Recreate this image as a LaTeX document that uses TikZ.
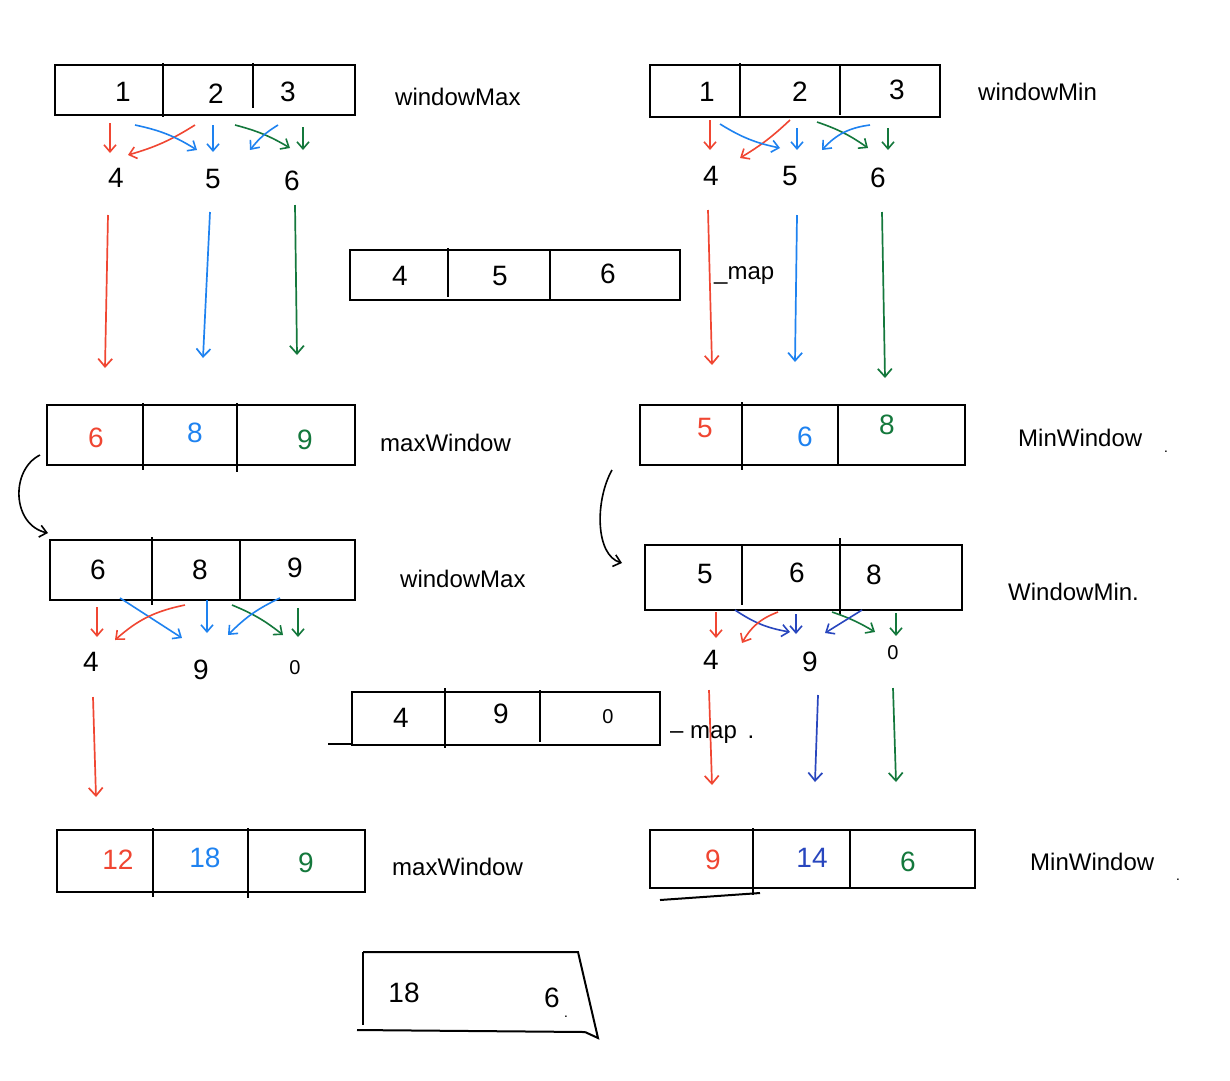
\documentclass[tikz,border=0pt]{standalone}
\usepackage{fontspec}
\setmainfont{Liberation Sans}
\usetikzlibrary{arrows.meta}
\definecolor{pred}{RGB}{240,70,50}
\definecolor{pblue}{RGB}{30,130,240}
\definecolor{pgreen}{RGB}{20,120,60}
\definecolor{pdblue}{RGB}{40,70,190}
\tikzset{
  box/.style={draw=black, line width=2pt},
  divl/.style={draw=black, line width=1.6pt},
  val/.style={inner sep=0pt, font=\fontsize{28}{32}\selectfont},
  num/.style={inner sep=0pt, font=\fontsize{28}{32}\selectfont},
  zero/.style={inner sep=0pt, font=\fontsize{20}{24}\selectfont},
  lbl/.style={inner sep=0pt, anchor=west, font=\fontsize{24}{28}\selectfont},
  arr/.style={-{Straight Barb[length=8pt,width=14pt]}, line width=1.7pt},
  sarr/.style={-{Straight Barb[length=7pt,width=12pt]}, line width=1.6pt},
}
\begin{document}
\begin{tikzpicture}[x=1pt,y=-1pt]
\useasboundingbox[fill=white] (0,0) rectangle (1230,1080);

% ---------- Box A : windowMax (top-left)
\draw[box] (55,65) rectangle (355,115);
\draw[divl] (163,63) -- (163,117);
\draw[divl] (253,63) -- (253,108);
\node[val] (a1) at (123,92) {1};
\node[val] (a2) at (216,94) {2};
\node[val] (a3) at (288,92) {3};
\node[lbl] (la) at (395,97) {windowMax};

% ---------- Box B : windowMin (top-right)
\draw[box] (650,65) rectangle (940,117);
\draw[divl] (740,63) -- (740,117);
\draw[divl] (840,66) -- (840,115);
\node[val] (b1) at (707,92) {1};
\node[val] (b2) at (800,92) {2};
\node[val] (b3) at (897,90) {3};
\node[lbl] (lb) at (978,92) {windowMin};

% small arrows under A
\coordinate (a1s) at (110,123); \coordinate (o4e) at (110,153);
\draw[sarr, pred] (a1s) -- (o4e);
\coordinate (a2r) at (195,125); \coordinate (o4r) at (128,155);
\draw[sarr, pred] (a2r) to[bend left=8] (o4r);
\coordinate (a1b) at (135,125); \coordinate (o5b) at (197,150);
\draw[sarr, pblue] (a1b) to[bend left=10] (o5b);
\coordinate (a2b) at (213,125); \coordinate (o5c) at (213,152);
\draw[sarr, pblue] (a2b) -- (o5c);
\coordinate (a2g) at (235,125); \coordinate (o6g) at (290,148);
\draw[sarr, pgreen] (a2g) to[bend left=8] (o6g);
\coordinate (a3b) at (278,125); \coordinate (o5d) at (250,150);
\draw[sarr, pblue] (a3b) to[bend right=10] (o5d);
\coordinate (a3g) at (303,127); \coordinate (o6h) at (303,150);
\draw[sarr, pgreen] (a3g) -- (o6h);

\node[num] (n4) at (116,178) {4};
\node[num] (n5) at (213,179) {5};
\node[num] (n6) at (292,181) {6};

% small arrows under B
\coordinate (b1s) at (710,120); \coordinate (p4e) at (710,150);
\draw[sarr, pred] (b1s) -- (p4e);
\coordinate (b2r) at (790,120); \coordinate (p4r) at (740,158);
\draw[sarr, pred] (b2r) to[bend left=6] (p4r);
\coordinate (b1b) at (720,124); \coordinate (p5b) at (780,148);
\draw[sarr, pblue] (b1b) to[bend right=10] (p5b);
\coordinate (b2b) at (797,128); \coordinate (p5c) at (797,150);
\draw[sarr, pblue] (b2b) -- (p5c);
\coordinate (b2g) at (817,122); \coordinate (p6g) at (868,148);
\draw[sarr, pgreen] (b2g) to[bend left=8] (p6g);
\coordinate (b3b) at (870,125); \coordinate (p5d) at (822,150);
\draw[sarr, pblue] (b3b) to[bend right=20] (p5d);
\coordinate (b3g) at (888,128); \coordinate (p6h) at (888,150);
\draw[sarr, pgreen] (b3g) -- (p6h);

\node[num] (m4) at (711,176) {4};
\node[num] (m5) at (790,176) {5};
\node[num] (m6) at (878,178) {6};

% ---------- Box C : 4 5 6
\draw[box] (350,250) rectangle (680,300);
\draw[divl] (448,248) -- (448,297);
\draw[divl] (550,250) -- (550,300);
\node[val] (c1) at (400,276) {4};
\node[val] (c2) at (500,276) {5};
\node[val] (c3) at (608,274) {6};
\node[lbl] (lc) at (714,276) {\_map};

% ---------- long arrows (top)
\coordinate (la1) at (108,215); \coordinate (la2) at (105,368);
\draw[arr, pred] (la1) -- (la2);
\coordinate (lb1) at (210,212); \coordinate (lb2) at (203,358);
\draw[arr, pblue] (lb1) -- (lb2);
\coordinate (lg1) at (295,205); \coordinate (lg2) at (297,355);
\draw[arr, pgreen] (lg1) -- (lg2);
\coordinate (ra1) at (708,210); \coordinate (ra2) at (712,365);
\draw[arr, pred] (ra1) -- (ra2);
\coordinate (rb1) at (797,215); \coordinate (rb2) at (795,362);
\draw[arr, pblue] (rb1) -- (rb2);
\coordinate (rg1) at (882,212); \coordinate (rg2) at (885,378);
\draw[arr, pgreen] (rg1) -- (rg2);

% ---------- Box D : maxWindow
\draw[box] (47,405) rectangle (355,465);
\draw[divl] (143,403) -- (143,470);
\draw[divl] (237,403) -- (237,472);
\node[val, text=pred] (d1) at (96,438) {6};
\node[val, text=pblue] (d2) at (195,433) {8};
\node[val, text=pgreen] (d3) at (305,440) {9};
\node[lbl] (ld) at (380,443) {maxWindow};

% ---------- Box E : MinWindow
\draw[box] (640,405) rectangle (965,465);
\draw[divl] (742,402) -- (742,470);
\draw[divl] (838,405) -- (838,465);
\node[val, text=pred] (e1) at (705,428) {5};
\node[val, text=pblue] (e2) at (805,437) {6};
\node[val, text=pgreen] (e3) at (887,425) {8};
\node[lbl] (le) at (1018,438) {MinWindow};
\node[inner sep=0pt] (ledot) at (1166,452) {\textbf{.}};

% ---------- Box F : windowMax
\draw[box] (50,540) rectangle (355,600);
\draw[divl] (152,537) -- (152,605);
\draw[divl] (240,540) -- (240,600);
\node[val] (f1) at (98,570) {6};
\node[val] (f2) at (200,570) {8};
\node[val] (f3) at (295,568) {9};
\node[lbl] (lf) at (400,579) {windowMax};

% curved arrow D -> F
\coordinate (df1) at (40,455);
\coordinate (df2) at (48,533);
\draw[sarr, black] (df1) .. controls (10,470) and (12,525) .. (df2);

% ---------- Box G : windowMin
\draw[box] (645,545) rectangle (962,610);
\draw[divl] (742,545) -- (742,605);
\draw[divl] (840,538) -- (840,615);
\node[val] (g1) at (705,574) {5};
\node[val] (g2) at (797,573) {6};
\node[val] (g3) at (874,575) {8};
\node[lbl] (lg) at (1008,592) {WindowMin.};

% curved arrow E -> G
\coordinate (eg1) at (612,470);
\coordinate (eg2) at (622,563);
\draw[sarr, black] (eg1) .. controls (595,500) and (595,555) .. (eg2);

% small arrows under F
\coordinate (f1s) at (97,607); \coordinate (q4e) at (97,637);
\draw[sarr, pred] (f1s) -- (q4e);
\coordinate (f1b) at (120,598); \coordinate (q9b) at (182,638);
\draw[sarr, pblue] (f1b) -- (q9b);
\coordinate (f2r) at (185,605); \coordinate (q4r) at (115,640);
\draw[sarr, pred] (f2r) to[bend right=15] (q4r);
\coordinate (f2b) at (207,600); \coordinate (q9c) at (207,633);
\draw[sarr, pblue] (f2b) -- (q9c);
\coordinate (f2g) at (232,605); \coordinate (q0g) at (283,635);
\draw[sarr, pgreen] (f2g) to[bend left=8] (q0g);
\coordinate (f3b) at (280,598); \coordinate (q9d) at (228,635);
\draw[sarr, pblue] (f3b) to[bend right=10] (q9d);
\coordinate (f3g) at (298,608); \coordinate (q0h) at (298,637);
\draw[sarr, pgreen] (f3g) -- (q0h);

\node[num] (r4) at (91,662) {4};
\node[num] (r9) at (201,670) {9};
\node[zero] (r0) at (295,668) {0};

% small arrows under G
\coordinate (g1s) at (716,612); \coordinate (s4e) at (716,638);
\draw[sarr, pred] (g1s) -- (s4e);
\coordinate (g1b) at (735,610); \coordinate (s9b) at (790,632);
\draw[sarr, pdblue] (g1b) to[bend right=12] (s9b);
\coordinate (g2r) at (778,612); \coordinate (s4r) at (742,643);
\draw[sarr, pred] (g2r) to[bend right=20] (s4r);
\coordinate (g2b) at (796,614); \coordinate (s9c) at (796,634);
\draw[sarr, pdblue] (g2b) -- (s9c);
\coordinate (g2g) at (832,612); \coordinate (s0g) at (875,632);
\draw[sarr, pgreen] (g2g) to[bend left=6] (s0g);
\coordinate (g3b) at (862,610); \coordinate (s9d) at (825,633);
\draw[sarr, pdblue] (g3b) -- (s9d);
\coordinate (g3g) at (896,613); \coordinate (s0h) at (896,636);
\draw[sarr, pgreen] (g3g) -- (s0h);

\node[num] (t4) at (711,660) {4};
\node[num] (t9) at (810,662) {9};
\node[zero] (t0) at (893,653) {0};

% ---------- Box H : 4 9 0
\draw[box] (352,692) rectangle (660,745);
\draw[box] (328,744) -- (352,744);
\draw[divl] (445,688) -- (445,748);
\draw[divl] (540,690) -- (540,742);
\node[val] (h1) at (401,718) {4};
\node[val] (h2) at (501,714) {9};
\node[zero] (h3) at (608,717) {0};
\node[lbl] (lh) at (670,735) {– map \,.};

% long arrows (bottom)
\coordinate (lr1) at (93,697); \coordinate (lr2) at (96,797);
\draw[arr, pred] (lr1) -- (lr2);
\coordinate (rr1) at (709,690); \coordinate (rr2) at (712,785);
\draw[arr, pred] (rr1) -- (rr2);
\coordinate (rb3) at (818,695); \coordinate (rb4) at (815,782);
\draw[arr, pdblue] (rb3) -- (rb4);
\coordinate (rg3) at (893,688); \coordinate (rg4) at (896,782);
\draw[arr, pgreen] (rg3) -- (rg4);

% ---------- Box I : maxWindow
\draw[box] (57,830) rectangle (365,892);
\draw[divl] (153,828) -- (153,897);
\draw[divl] (248,828) -- (248,898);
\node[val, text=pred] (i1) at (118,860) {12};
\node[val, text=pblue] (i2) at (205,858) {18};
\node[val, text=pgreen] (i3) at (306,863) {9};
\node[lbl] (li) at (392,867) {maxWindow};

% ---------- Box J : MinWindow
\draw[box] (650,830) rectangle (975,888);
\draw[box] (660,900) -- (760,893);
\draw[divl] (753,828) -- (753,895);
\draw[divl] (850,830) -- (850,888);
\node[val, text=pred] (j1) at (713,860) {9};
\node[val, text=pdblue] (j2) at (812,858) {14};
\node[val, text=pgreen] (j3) at (908,862) {6};
\node[lbl] (lj) at (1030,862) {MinWindow};
\node[inner sep=0pt] (ljdot) at (1178,880) {\textbf{.}};

% ---------- Box K : 18 6
\draw[box] (363,952) -- (578,952) -- (598,1038) -- (585,1032);
\draw[box] (363,952) -- (363,1025);
\draw[box] (357,1030) -- (585,1032);
\node[val] (k1) at (404,993) {18};
\node[val] (k2) at (552,998) {6};
\node[inner sep=0pt] (kdot) at (566,1017) {\textbf{.}};
\end{tikzpicture}
\end{document}
